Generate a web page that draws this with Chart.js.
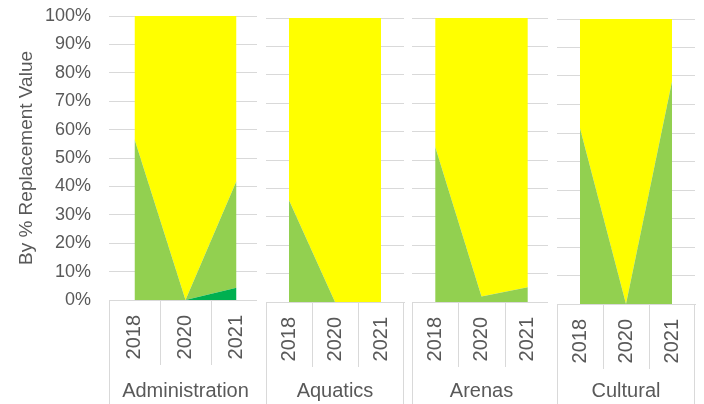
<!DOCTYPE html>
<html>
<head>
<meta charset="utf-8">
<script src="https://cdn.jsdelivr.net/npm/chart.js@4.4.1/dist/chart.umd.min.js"></script>
<style>
  html, body { margin: 0; padding: 0; background: #fff; }
  #wrap { position: relative; width: 704px; height: 404px; overflow: hidden; }
  #wrap canvas { position: absolute; top: 0; background: #fff; }
</style>
</head>
<body>
<div id="wrap"></div>
<script>
// categories
const groups = ['Administration', 'Aquatics', 'Arenas', 'Cultural'];
const years = ['2018', '2020', '2021'];

// share of replacement value (%), one row per group, one value per year
const darkGreenShare  = [[0, 0, 4.3],     [0, 0, 0],      [0, 0, 0],       [0, 0, 0]];
const lightGreenShare = [[56.6, 0, 37.6], [35.8, 0, 0],   [54.7, 1.9, 5.2], [61.7, 0, 78.1]];
const yellowShare     = [[43.4, 100, 58.1], [64.2, 100, 100], [45.3, 98.1, 94.8], [38.3, 100, 21.9]];

const yTitle = 'By % Replacement Value';

// panel placement on the page (each group is its own small chart)
const panelLayout = [
  { left: 0,   width: 262, plotLeft: 109, plotRight: 262, top: 16, bottom: 300 },
  { left: 257, width: 148, plotLeft: 266, plotRight: 404, top: 18, bottom: 302 },
  { left: 405, width: 146, plotLeft: 412, plotRight: 551, top: 18, bottom: 302 },
  { left: 548, width: 156, plotLeft: 557, plotRight: 695, top: 19, bottom: 304 }
];

const H = 404;
const titleH = 25;
const textColor = '#595959';
const lineColor = '#d9d9d9';

Chart.defaults.font.family = '"Liberation Sans", Arial, sans-serif';
Chart.defaults.color = textColor;

// draws the boxes round the category labels under each panel
const tableLines = {
  id: 'tableLines',
  afterDraw(chart) {
    const x = chart.scales.x;
    const ctx = chart.ctx;
    const n = chart.data.labels.length;
    ctx.save();
    ctx.strokeStyle = lineColor;
    ctx.lineWidth = 1;
    for (let i = 0; i <= n; i++) {
      let px = x.getPixelForValue(i - 0.5);
      if (i === 0) px = Math.floor(px) + 0.5;
      else if (i === n) px = Math.ceil(px) - 0.5;
      else px = Math.round(px) + 0.5;
      const end = (i === 0 || i === n) ? chart.height : x.top + 65;
      ctx.beginPath();
      ctx.moveTo(px, x.top);
      ctx.lineTo(px, end);
      ctx.stroke();
    }
    ctx.restore();
  }
};

const wrap = document.getElementById('wrap');

groups.forEach((group, i) => {
  const p = panelLayout[i];
  const canvas = document.createElement('canvas');
  canvas.width = p.width;
  canvas.height = H;
  canvas.style.left = p.left + 'px';
  wrap.appendChild(canvas);

  new Chart(canvas, {
    type: 'line',
    data: {
      labels: years,
      datasets: [
        { label: 'Dark green', data: darkGreenShare[i], backgroundColor: '#00b050', fill: 'origin' },
        { label: 'Light green', data: lightGreenShare[i], backgroundColor: '#92d050', fill: '-1' },
        { label: 'Yellow', data: yellowShare[i], backgroundColor: '#ffff00', fill: '-1' }
      ]
    },
    options: {
      responsive: false,
      animation: false,
      layout: { padding: { top: p.top, right: p.left + p.width - p.plotRight, left: 0, bottom: 0 } },
      elements: {
        point: { radius: 0 },
        line: { borderWidth: 0, borderColor: 'transparent', tension: 0 }
      },
      plugins: {
        legend: { display: false },
        tooltip: { enabled: false },
        title: {
          display: true,
          position: 'bottom',
          fullSize: false,
          text: group,
          color: textColor,
          font: { size: 20, weight: 'normal' },
          padding: { top: 0, bottom: 1 }
        }
      },
      scales: {
        x: {
          type: 'category',
          offset: true,
          grid: { display: false, drawTicks: false },
          border: { display: true, color: lineColor },
          ticks: { autoSkip: false, minRotation: 90, maxRotation: 90, padding: 15, font: { size: 20 }, color: textColor },
          afterFit: s => {
            s.height = H - titleH - p.bottom;
            s.paddingLeft = 0;
            s.paddingRight = 0;
          }
        },
        y: {
          stacked: true,
          min: 0,
          max: 100,
          grid: { color: lineColor, drawTicks: false },
          border: { display: false },
          ticks: {
            display: i === 0,
            stepSize: 10,
            padding: 18,
            font: { size: 18 },
            color: textColor,
            callback: v => v + '%'
          },
          title: {
            display: i === 0,
            text: yTitle,
            color: textColor,
            font: { size: 19 },
            padding: { top: 15, bottom: 0 }
          },
          afterFit: s => {
            s.width = p.plotLeft - p.left;
            s.paddingTop = 0;
            s.paddingBottom = 0;
          }
        }
      }
    },
    plugins: [tableLines]
  });
});
</script>
</body>
</html>
